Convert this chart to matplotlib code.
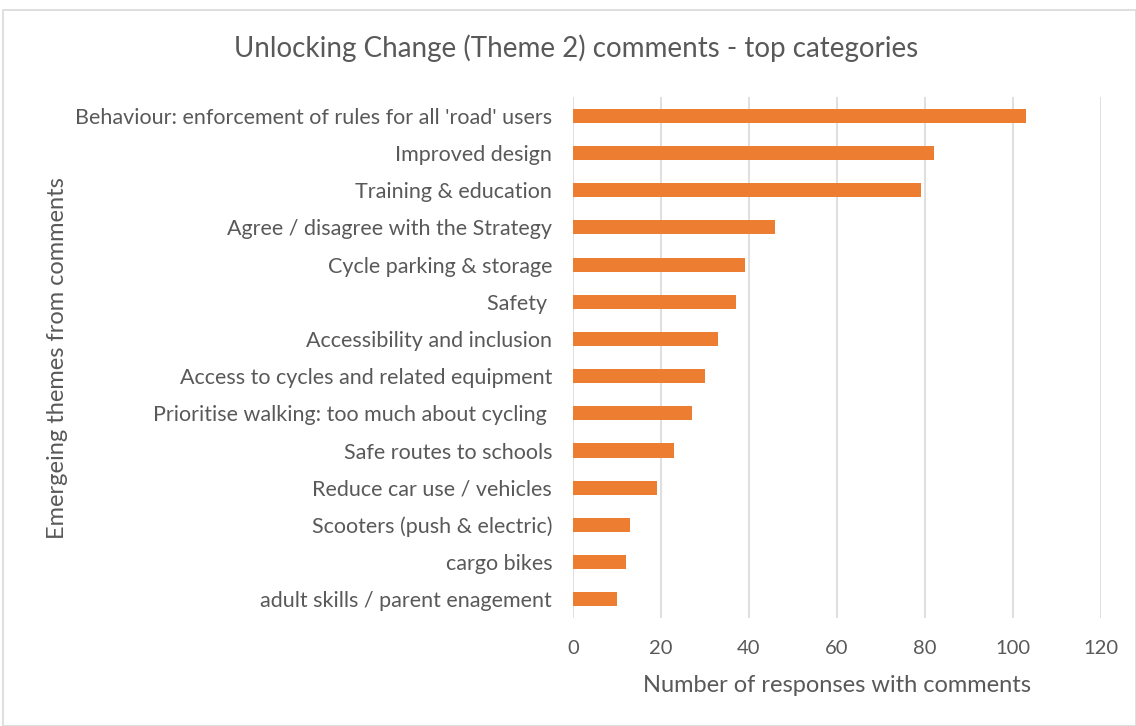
import matplotlib
matplotlib.use("Agg")
import matplotlib.pyplot as plt
from matplotlib.patches import Rectangle

categories = [
    "Behaviour: enforcement of rules for all 'road' users",
    "Improved design",
    "Training & education",
    "Agree / disagree with the Strategy",
    "Cycle parking & storage",
    "Safety ",
    "Accessibility and inclusion",
    "Access to cycles and related equipment",
    "Prioritise walking: too much about cycling ",
    "Safe routes to schools",
    "Reduce car use / vehicles",
    "Scooters (push & electric)",
    "cargo bikes",
    "adult skills / parent enagement",
]
counts = [103, 82, 79, 46, 39, 37, 33, 30, 27, 23, 19, 13, 12, 10]
x_ticks = [0, 20, 40, 60, 80, 100, 120]

title = "Unlocking Change (Theme 2) comments - top categories"
x_label = "Number of responses with comments"
y_label = "Emergeing themes from comments"

text_color = "#595959"
bar_color = "#ED7D31"
grid_color = "#D9D9D9"

plt.rcParams["font.family"] = ["Lato", "DejaVu Sans"]

fig = plt.figure(figsize=(11.36, 7.26), dpi=100)
ax = fig.add_axes([0.5044, 0.149, 0.4648, 0.717])

positions = list(range(len(categories)))[::-1]
ax.barh(positions, counts, height=0.38, color=bar_color, zorder=3)

ax.set_xlim(0, 120)
ax.set_ylim(-0.5, len(categories) - 0.5)
ax.set_xticks(x_ticks)
ax.set_xticklabels([str(t) for t in x_ticks])
ax.set_yticks(positions)
ax.set_yticklabels(categories)
ax.tick_params(axis="x", length=0, colors=text_color, labelsize=14.5, pad=16)
ax.tick_params(axis="y", length=0, colors=text_color, labelsize=15.5, pad=15)
ax.xaxis.grid(True, color=grid_color, linewidth=1.2, zorder=0)
for s in ax.spines.values():
    s.set_visible(False)

ax.set_xlabel(x_label, color=text_color, fontsize=17, labelpad=13)
fig.text(0.051, 0.507, y_label, rotation=90, color=text_color, fontsize=17,
         ha="center", va="center")
fig.text(0.507, 0.934, title, color=text_color, fontsize=20,
         ha="center", va="center")

fig.patches.append(Rectangle((0.003, 0.0), 0.997, 0.986, transform=fig.transFigure,
                             fill=False, edgecolor=grid_color, linewidth=1.2))

fig.savefig("out.png", dpi=100, facecolor="white")
